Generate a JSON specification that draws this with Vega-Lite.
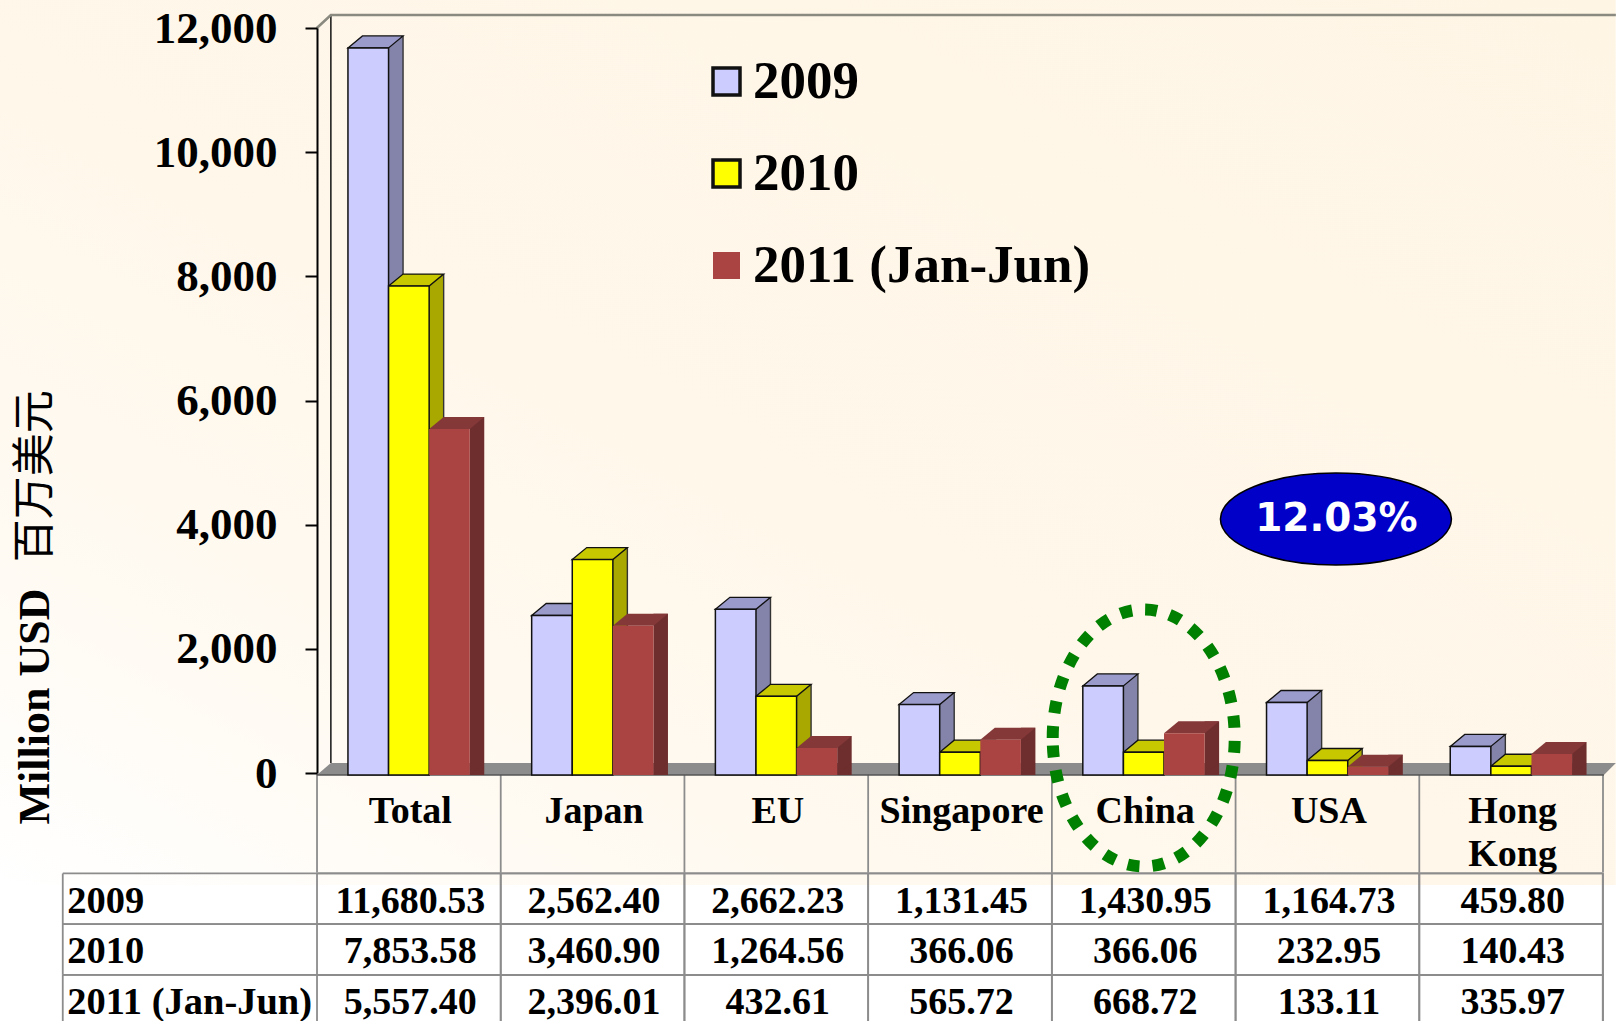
{
"$schema":"https://vega.github.io/schema/vega-lite/v6.json",
"width":1616,"height":1021,"padding":0,"autosize":{"type":"none"},
"background":"#ffffff",
"config":{"view":{"stroke":null},"font":"Liberation Serif"},
"datasets":{
"bars":[
{"category":"Total","year":"2009","value":11680.53},{"category":"Total","year":"2010","value":7853.58},{"category":"Total","year":"2011 (Jan-Jun)","value":5557.40},
{"category":"Japan","year":"2009","value":2562.40},{"category":"Japan","year":"2010","value":3460.90},{"category":"Japan","year":"2011 (Jan-Jun)","value":2396.01},
{"category":"EU","year":"2009","value":2662.23},{"category":"EU","year":"2010","value":1264.56},{"category":"EU","year":"2011 (Jan-Jun)","value":432.61},
{"category":"Singapore","year":"2009","value":1131.45},{"category":"Singapore","year":"2010","value":366.06},{"category":"Singapore","year":"2011 (Jan-Jun)","value":565.72},
{"category":"China","year":"2009","value":1430.95},{"category":"China","year":"2010","value":366.06},{"category":"China","year":"2011 (Jan-Jun)","value":668.72},
{"category":"USA","year":"2009","value":1164.73},{"category":"USA","year":"2010","value":232.95},{"category":"USA","year":"2011 (Jan-Jun)","value":133.11},
{"category":"Hong Kong","year":"2009","value":459.80},{"category":"Hong Kong","year":"2010","value":140.43},{"category":"Hong Kong","year":"2011 (Jan-Jun)","value":335.97}
],
"headers":[
{"category":"Total","header":"Total"},{"category":"Japan","header":"Japan"},{"category":"EU","header":"EU"},{"category":"Singapore","header":"Singapore"},{"category":"China","header":"China"},{"category":"USA","header":"USA"},{"category":"Hong Kong","header":"Hong\nKong"}
],
"rows":[{"year":"2009"},{"year":"2010"},{"year":"2011 (Jan-Jun)"}],
"one":[{"note":"12.03%"}],
"origin":[{"category":"Total","value":0}],
"unitlabel":[{"category":"Total","value":4800,"unit":"百万美元"}],
"bubble":[{"category":"USA","value":4112,"note":"12.03%"}],
"ring":[{"category":"China","value":0}]
},
"layer":[
{
"encoding":{
"x":{"field":"category","type":"nominal","axis":null,"scale":{"domain":["label","Total","Japan","EU","Singapore","China","USA","Hong Kong"],"range":[133.3,1603],"padding":0}},
"y":{"field":"year","type":"nominal","axis":null,"scale":{"domain":["header","header 2","2009","2010","2011 (Jan-Jun)"],"range":[772,1025.5],"padding":0}}
},
"layer":[
{"data":{"name":"one"},"mark":{"type":"point","filled":true,"opacity":1,"size":4,"shape":"M-225.4,-797.4H1390.6V87.6H-225.4Z","fill":{"x1":1,"y1":0,"x2":0,"y2":1,"gradient":"linear","stops":[{"offset":0,"color":"#fef5e5"},{"offset":0.55,"color":"#fff7ea"},{"offset":0.8,"color":"#fffaf2"},{"offset":1,"color":"#ffffff"}]},"stroke":null},
 "encoding":{"x":{"datum":"label"},"y":{"datum":"header"}}},
{"data":{"name":"bars"},"mark":{"type":"rect","fill":"transparent","stroke":"#8c8c8c","strokeWidth":1.8}},
{"data":{"name":"rows"},"mark":{"type":"point","filled":false,"opacity":1,"size":4,"shape":"M-162.4,-25.35H1377.6M-162.4,25.35H1377.6M-162.4,-25.35V25.35M1377.6,-25.35V25.35","stroke":"#8c8c8c","strokeWidth":1.8},
 "encoding":{"x":{"datum":"label"}}},
{"data":{"name":"headers"},"mark":{"type":"point","filled":false,"opacity":1,"size":4,"shape":"M-91.85,-23V75","stroke":"#8c8c8c","strokeWidth":1.8},
 "encoding":{"y":{"datum":"header"}}},
{"data":{"name":"one"},"mark":{"type":"point","filled":false,"opacity":1,"size":4,"shape":"M91.85,-23V75","stroke":"#8c8c8c","strokeWidth":1.8},
 "encoding":{"x":{"datum":"Hong Kong"},"y":{"datum":"header"}}},
{"data":{"name":"headers"},"mark":{"type":"text","font":"Liberation Serif","fontWeight":"bold","fontSize":38,"baseline":"top","lineBreak":"\n","lineHeight":43,"dy":-4,"dx":1.5,"color":"#000000"},
 "encoding":{"y":{"datum":"header"},"text":{"field":"header"}}},
{"data":{"name":"bars"},"mark":{"type":"text","font":"Liberation Serif","fontWeight":"bold","fontSize":38,"baseline":"middle","dy":3,"dx":1.5,"color":"#000000"},
 "encoding":{"text":{"field":"value","type":"quantitative","format":",.2f"}}},
{"data":{"name":"rows"},"mark":{"type":"text","font":"Liberation Serif","fontWeight":"bold","fontSize":38.5,"baseline":"middle","align":"left","dy":2,"xOffset":-158,"color":"#000000"},
 "encoding":{"x":{"datum":"label"},"text":{"field":"year"}}}
]
},
{
"encoding":{
"x":{"field":"category","type":"nominal","axis":null,"scale":{"domain":["Total","Japan","EU","Singapore","China","USA","Hong Kong"],"range":[317,1603],"paddingInner":0.337,"paddingOuter":0.1685}},
"y":{"field":"value","type":"quantitative","stack":null,"axis":null,"scale":{"domain":[0,12000],"range":[775,28],"nice":false}}
},
"resolve":{"scale":{"fill":"independent","stroke":"independent","xOffset":"independent"},"legend":{"fill":"independent","stroke":"independent"}},
"layer":[
{"data":{"name":"origin"},"mark":{"type":"point","filled":true,"opacity":1,"size":4,"shape":"M-92,0L-78,-12L1207,-12L1195,0Z","fill":"#8c8c8c","stroke":null}},
{"data":{"name":"origin"},"mark":{"type":"point","filled":false,"opacity":1,"size":4,"shape":"M-92,0H1195","stroke":"#555555","strokeWidth":1.6}},
{"data":{"name":"origin"},"mark":{"type":"point","filled":false,"opacity":1,"size":4,"shape":"M-78,-12V-760","stroke":"#222222","strokeWidth":1.6}},
{"data":{"name":"origin"},"mark":{"type":"point","filled":false,"opacity":1,"size":4,"shape":"M-92,-747L-78,-760H1207","stroke":"#8a8a80","strokeWidth":2.6}},
{"data":{"name":"bars"},"mark":{"type":"bar","width":14.5,"yOffset":-12},
 "encoding":{"xOffset":{"field":"year","type":"nominal","scale":{"domain":["2009","2010","2011 (Jan-Jun)"],"range":[27.55,149.35]}},"fill":{"field":"year","type":"nominal","legend":null,"scale":{"domain":["2009","2010","2011 (Jan-Jun)"],"range":["#8484aa","#a8a800","#6f2e2e"]}}}},
{"data":{"name":"bars"},"mark":{"type":"rule","strokeWidth":1.4,"yOffset":-12,"y2Offset":-12},
 "encoding":{"xOffset":{"field":"year","type":"nominal","scale":{"domain":["2009","2010","2011 (Jan-Jun)"],"range":[34.8,156.6]}},"y2":{"datum":0},
 "stroke":{"field":"year","type":"nominal","legend":null,"scale":{"domain":["2009","2010","2011 (Jan-Jun)"],"range":["#333333","#333333","transparent"]}}}},
{"data":{"name":"bars"},"mark":{"type":"point","filled":true,"opacity":1,"size":4,"shape":"M20.3,0L34.8,-12L20.3,-12Z","stroke":null},
 "encoding":{"xOffset":{"field":"year","type":"nominal","scale":{"domain":["2009","2010","2011 (Jan-Jun)"]}},"y":{"datum":0},"fill":{"field":"year","type":"nominal","legend":null,"scale":{"domain":["2009","2010","2011 (Jan-Jun)"],"range":["#8484aa","#a8a800","#6f2e2e"]}}}},
{"data":{"name":"bars"},"mark":{"type":"point","filled":true,"opacity":1,"size":4,"shape":"M-20.3,0L-5.8,-12L34.8,-12L20.3,0Z","strokeWidth":1.3},
 "encoding":{"xOffset":{"field":"year","type":"nominal","scale":{"domain":["2009","2010","2011 (Jan-Jun)"]}},"fill":{"field":"year","type":"nominal","legend":null,"scale":{"domain":["2009","2010","2011 (Jan-Jun)"],"range":["#9a9acb","#c8c800","#843838"]}},
 "stroke":{"field":"year","type":"nominal","legend":null,"scale":{"domain":["2009","2010","2011 (Jan-Jun)"],"range":["#111111","#111111","transparent"]}}}},
{"data":{"name":"bars"},"mark":{"type":"bar","width":40.6,"strokeWidth":1.5},
 "encoding":{
 "xOffset":{"field":"year","type":"nominal","scale":{"domain":["2009","2010","2011 (Jan-Jun)"]}},
 "fill":{"field":"year","type":"nominal","scale":{"domain":["2009","2010","2011 (Jan-Jun)"],"range":["#ccccff","#ffff00","#a94442"]},
  "legend":{"orient":"none","legendX":700,"legendY":55,"title":null,"symbolType":"square","symbolSize":729,"symbolStrokeWidth":3.5,"labelFont":"Liberation Serif","labelFontWeight":"bold","labelFontSize":53,"labelColor":"#000000","labelOffset":0,"labelLimit":500,"rowPadding":38,"padding":0}},
 "stroke":{"field":"year","type":"nominal","scale":{"domain":["2009","2010","2011 (Jan-Jun)"],"range":["#111111","#111111","transparent"]}}}},
{"data":{"name":"unitlabel"},"mark":{"type":"text","font":"Noto Sans CJK SC","fontSize":43,"angle":270,"color":"#000000","align":"center","baseline":"alphabetic","xOffset":-360},
 "encoding":{"text":{"field":"unit"}}},
{"data":{"name":"bubble"},"mark":{"type":"point","filled":true,"opacity":1,"size":4,"shape":"M-107,0A115.5,46 0 1 1 124,0A115.5,46 0 1 1 -107,0Z","fill":"#0000c8","stroke":"#000000","strokeWidth":1.5}},
{"data":{"name":"bubble"},"mark":{"type":"text","font":"DejaVu Sans","fontWeight":"bold","fontSize":39,"color":"#ffffff","align":"center","baseline":"middle","xOffset":9},
 "encoding":{"text":{"field":"note"}}},
{"data":{"name":"ring"},"mark":{"type":"point","filled":false,"opacity":1,"size":4,"shape":"M-91,-37A91,128.5 0 1 1 91,-37A91,128.5 0 1 1 -91,-37Z","stroke":"#008000","strokeWidth":12,"strokeDash":[12,13]}}
]
},
{"data":{"name":"origin"},"mark":{"type":"point","opacity":0},
 "encoding":{
 "x":{"field":"category","type":"nominal","axis":null,"scale":{"domain":["Total"],"range":[317,1603]}},
 "y":{"field":"value","type":"quantitative","scale":{"domain":[0,12000],"range":[773,28],"nice":false},
 "axis":{"orient":"left","zindex":2,"values":[0,2000,4000,6000,8000,10000,12000],"labelExpr":"format(datum.value, ',')","grid":false,"offset":-317,"tickSize":12,"tickWidth":2,"tickColor":"#000000","domainColor":"#000000","domainWidth":2,"labelFont":"Liberation Serif","labelFontWeight":"bold","labelFontSize":45,"labelColor":"#000000","labelPadding":28,"title":"Million USD","titleFont":"Liberation Serif","titleFontWeight":"bold","titleFontSize":44,"titleColor":"#000000","titleAngle":270,"titleX":-269,"titleY":706,"titleAlign":"center","titleBaseline":"alphabetic"}}
 }}
],
"resolve":{"scale":{"x":"independent","y":"independent"},"axis":{"x":"independent","y":"independent"}}
}
